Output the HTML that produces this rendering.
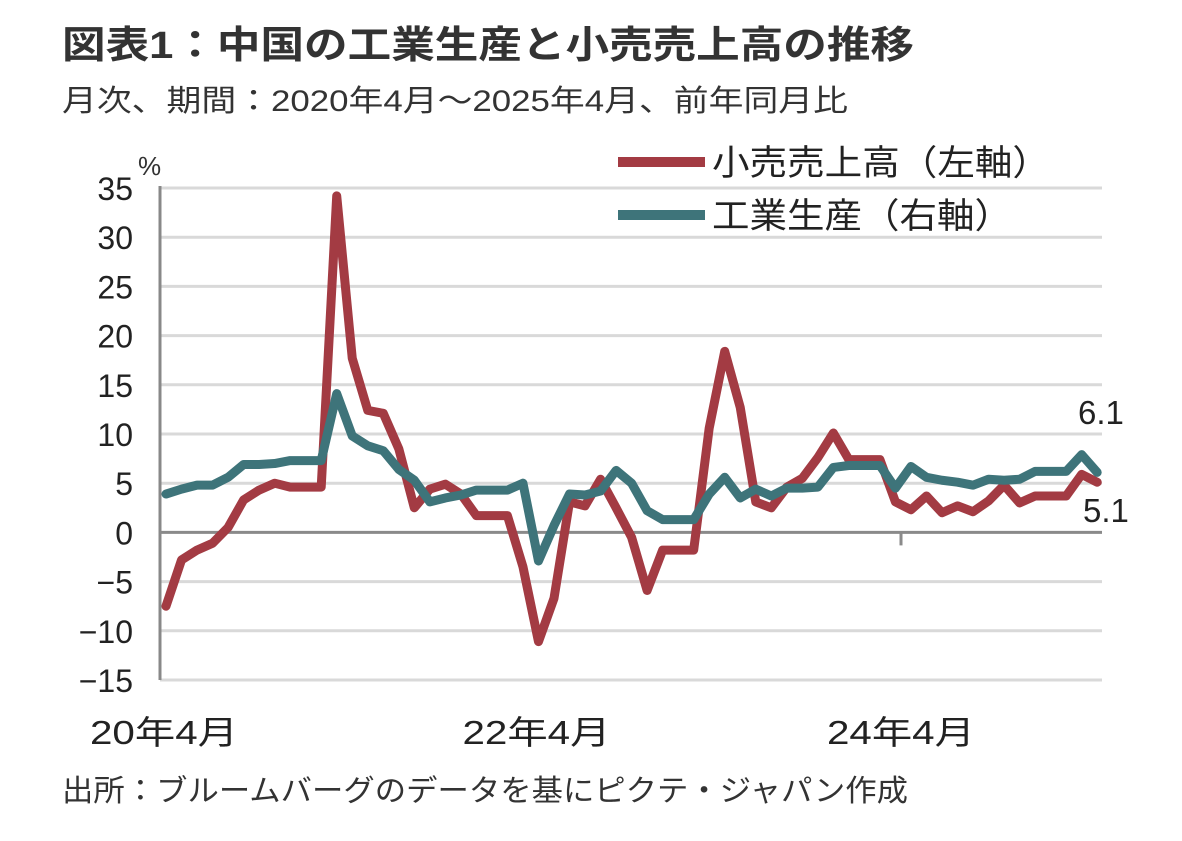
<!DOCTYPE html>
<html><head><meta charset="utf-8"><style>
body{margin:0;background:#fff;}
svg text{font-family:"Liberation Sans","Noto Sans CJK JP",sans-serif;}
</style></head><body>
<svg id="c" width="1182" height="836" xmlns="http://www.w3.org/2000/svg">
<text x="62" y="58" font-size="38" font-weight="bold" fill="#333" textLength="852" lengthAdjust="spacingAndGlyphs">図表1：中国の工業生産と小売売上高の推移</text>
<text x="62" y="111" font-size="30" fill="#333" textLength="786" lengthAdjust="spacingAndGlyphs">月次、期間：2020年4月～2025年4月、前年同月比</text>
<text x="138" y="175" font-size="26" fill="#333">%</text>
<g id="grid"></g><g id="yl"></g><g id="xl"></g><g id="series"></g>
<line x1="618" y1="162" x2="705" y2="162" stroke="#a33b43" stroke-width="10"/>
<text x="712" y="175" font-size="35" fill="#222" textLength="338" lengthAdjust="spacingAndGlyphs">小売売上高（左軸）</text>
<line x1="618" y1="215" x2="705" y2="215" stroke="#3e747a" stroke-width="10"/>
<text x="712" y="228" font-size="35" fill="#222" textLength="300" lengthAdjust="spacingAndGlyphs">工業生産（右軸）</text>
<text x="1078" y="424" font-size="33" fill="#222">6.1</text>
<text x="1083" y="522" font-size="33" fill="#222">5.1</text>
<text x="62" y="801" font-size="30" fill="#333" textLength="846" lengthAdjust="spacingAndGlyphs">出所：ブルームバーグのデータを基にピクテ・ジャパン作成</text>
</svg>
<script>
const yTicks=[35,30,25,20,15,10,5,0,-5,-10,-15];
const xLabels=["20年4月","22年4月","24年4月"];
const xLabelIdx=[0,24,48];
const retail=[-7.5,-2.8,-1.8,-1.1,0.5,3.3,4.3,5.0,4.6,4.6,4.6,34.2,17.7,12.4,12.1,8.5,2.5,4.4,4.9,3.9,1.7,1.7,1.7,-3.5,-11.1,-6.7,3.1,2.7,5.4,2.5,-0.5,-5.9,-1.8,-1.8,-1.8,10.6,18.4,12.7,3.1,2.5,4.6,5.5,7.6,10.1,7.4,7.4,7.4,3.1,2.3,3.7,2.0,2.7,2.1,3.2,4.8,3.0,3.7,3.7,3.7,5.9,5.1];
const industry=[3.9,4.4,4.8,4.8,5.6,6.9,6.9,7.0,7.3,7.3,7.3,14.1,9.8,8.8,8.3,6.4,5.3,3.1,3.5,3.8,4.3,4.3,4.3,5.0,-2.9,0.7,3.9,3.8,4.2,6.3,5.0,2.2,1.3,1.3,1.3,3.9,5.6,3.5,4.4,3.7,4.5,4.5,4.6,6.6,6.8,6.8,6.8,4.5,6.7,5.6,5.3,5.1,4.8,5.4,5.3,5.4,6.2,6.2,6.2,7.9,6.1];
const NS="http://www.w3.org/2000/svg";
const x=i=>166+i*15.52, y=v=>532.4-v*9.84;
function mk(t,a,p){const e=document.createElementNS(NS,t);for(const k in a)e.setAttribute(k,a[k]);document.getElementById(p).appendChild(e);return e;}
yTicks.forEach(v=>{
 if(v!==0){const g=mk('line',{x1:160,x2:1102,y1:y(v),y2:y(v),stroke:'#d9d9d9','stroke-width':3},'grid');
 
 }
 const t=mk('text',{x:133,y:y(v)+12,'font-size':32,'text-anchor':'end',fill:'#222'},'yl');t.textContent=(v<0?'−'+(-v):v);
 
 
});
const ax=mk('line',{x1:160,x2:160,y1:y(35)-2,y2:y(-15),stroke:'#888','stroke-width':3},'grid');


const z=mk('line',{x1:160,x2:1102,y1:y(0),y2:y(0),stroke:'#8a8a8a','stroke-width':3},'grid');


const tk=mk('line',{x1:901,x2:901,y1:y(0),y2:y(0)+13,stroke:'#8a8a8a','stroke-width':3},'grid');


xLabels.forEach((s,k)=>{
 const i=xLabelIdx[k];
 const t=mk('text',{x:x(i)-76+(k===2?-8:0),y:744,'font-size':33,fill:'#222',textLength:148,lengthAdjust:'spacingAndGlyphs'},'xl');t.textContent=s;
 
 
});
function line(d,c,n){const p=mk('polyline',{points:d.map((v,i)=>x(i)+','+y(v)).join(' '),fill:'none',stroke:c,'stroke-width':9,'stroke-linejoin':'round','stroke-linecap':'round'},'series');
 
 }
line(retail,'#a33b43','retail-sales-line');
line(industry,'#3e747a','industrial-production-line');
</script>
</body></html>
